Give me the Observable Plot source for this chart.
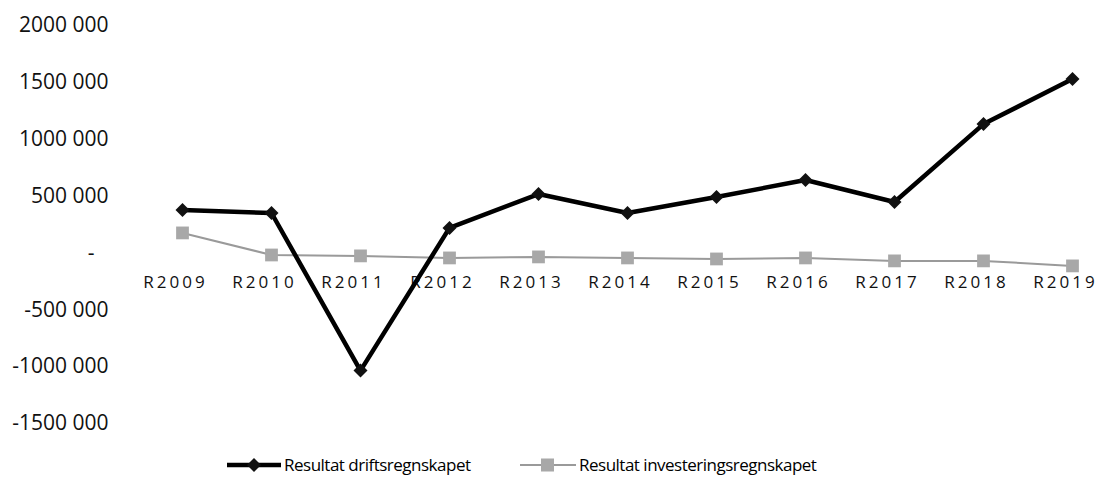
<!DOCTYPE html>
<html>
<head>
<meta charset="utf-8">
<script src="https://cdn.jsdelivr.net/npm/d3@7"></script>
<script src="https://cdn.jsdelivr.net/npm/@observablehq/plot@0.6"></script>
<style>
  html, body { margin: 0; padding: 0; background: #fff; }
  #chart { width: 1107px; }
  .legend { position: relative; height: 48px; font-family: "Open Sans", sans-serif; font-size: 17px; letter-spacing: -0.5px; color: #000; }
  .legend .item { position: absolute; top: 13px; display: flex; align-items: center; }
  .legend svg { margin-right: 3px; }
</style>
</head>
<body>
<div id="chart"></div>
<script>
const years = ["R2009","R2010","R2011","R2012","R2013","R2014","R2015","R2016","R2017","R2018","R2019"];
const drift = [378000, 351000, -1035000, 220000, 518000, 351000, 492000, 641000, 448000, 1133000, 1529000];
const invest = [176000, -18000, -26000, -44000, -35000, -44000, -53000, -44000, -70000, -70000, -114000];
const yTicks = [2000000, 1500000, 1000000, 500000, -500000, -1000000, -1500000];
const seriesNames = ["Resultat driftsregnskapet", "Resultat investeringsregnskapet"];

const driftData = years.map((y, i) => ({year: y, value: drift[i]}));
const investData = years.map((y, i) => ({year: y, value: invest[i]}));

const fmt = v => {
  const a = Math.abs(v);
  return (v < 0 ? "-" : "") + Math.trunc(a / 1000) + " " + String(a % 1000).padStart(3, "0");
};

const diamond = {
  draw(ctx, size) {
    const h = Math.sqrt(size / Math.PI);
    ctx.moveTo(0, -h); ctx.lineTo(h, 0); ctx.lineTo(0, h); ctx.lineTo(-h, 0); ctx.closePath();
  }
};

const plot = Plot.plot({
  width: 1107,
  height: 440,
  marginLeft: 178,
  marginRight: 32,
  marginTop: 25,
  marginBottom: 17,
  style: {fontFamily: "Open Sans, sans-serif", background: "#fff"},
  x: {type: "point", domain: years, padding: 0, axis: null},
  y: {domain: [-1500000, 2000000], axis: null},
  marks: [
    Plot.axisY({ticks: yTicks, tickFormat: fmt, tickSize: 0, tickPadding: 70, fontSize: 21, fill: "#111", label: null}),
    Plot.axisY({ticks: [0], tickFormat: () => "-", tickSize: 0, tickPadding: 84, fontSize: 21, fill: "#111", label: null}),
    Plot.text(years, {x: d => d, y: () => 0, dy: 30, dx: -7, fontSize: 17, fill: "#111", textAnchor: "middle"}),
    Plot.line(investData, {x: "year", y: "value", stroke: "#9a9a9a", strokeWidth: 2}),
    Plot.dot(investData, {x: "year", y: "value", symbol: "square", r: 7.2, fill: "#a8a8a8", stroke: "none"}),
    Plot.line(driftData, {x: "year", y: "value", stroke: "#000", strokeWidth: 4.5}),
    Plot.dot(driftData, {x: "year", y: "value", symbol: diamond, r: 7, fill: "#111", stroke: "none"})
  ]
});

plot.querySelectorAll('g[aria-label="text"]').forEach(g => {
  g.style.letterSpacing = "3px";
});
document.getElementById("chart").appendChild(plot);

const legend = document.createElement("div");
legend.className = "legend";
legend.innerHTML = `
  <div class="item" style="left:227px">
    <svg width="54" height="16"><line x1="0" y1="8" x2="54" y2="8" stroke="#000" stroke-width="4.5"/><path d="M27,1 L34,8 L27,15 L20,8 Z" fill="#111"/></svg>
    <span>${seriesNames[0]}</span>
  </div>
  <div class="item" style="left:520px">
    <svg width="56" height="16"><line x1="0" y1="8" x2="56" y2="8" stroke="#9a9a9a" stroke-width="2"/><rect x="21" y="1.5" width="13" height="13" fill="#a8a8a8"/></svg>
    <span>${seriesNames[1]}</span>
  </div>`;
document.body.appendChild(legend);
</script>
</body>
</html>
